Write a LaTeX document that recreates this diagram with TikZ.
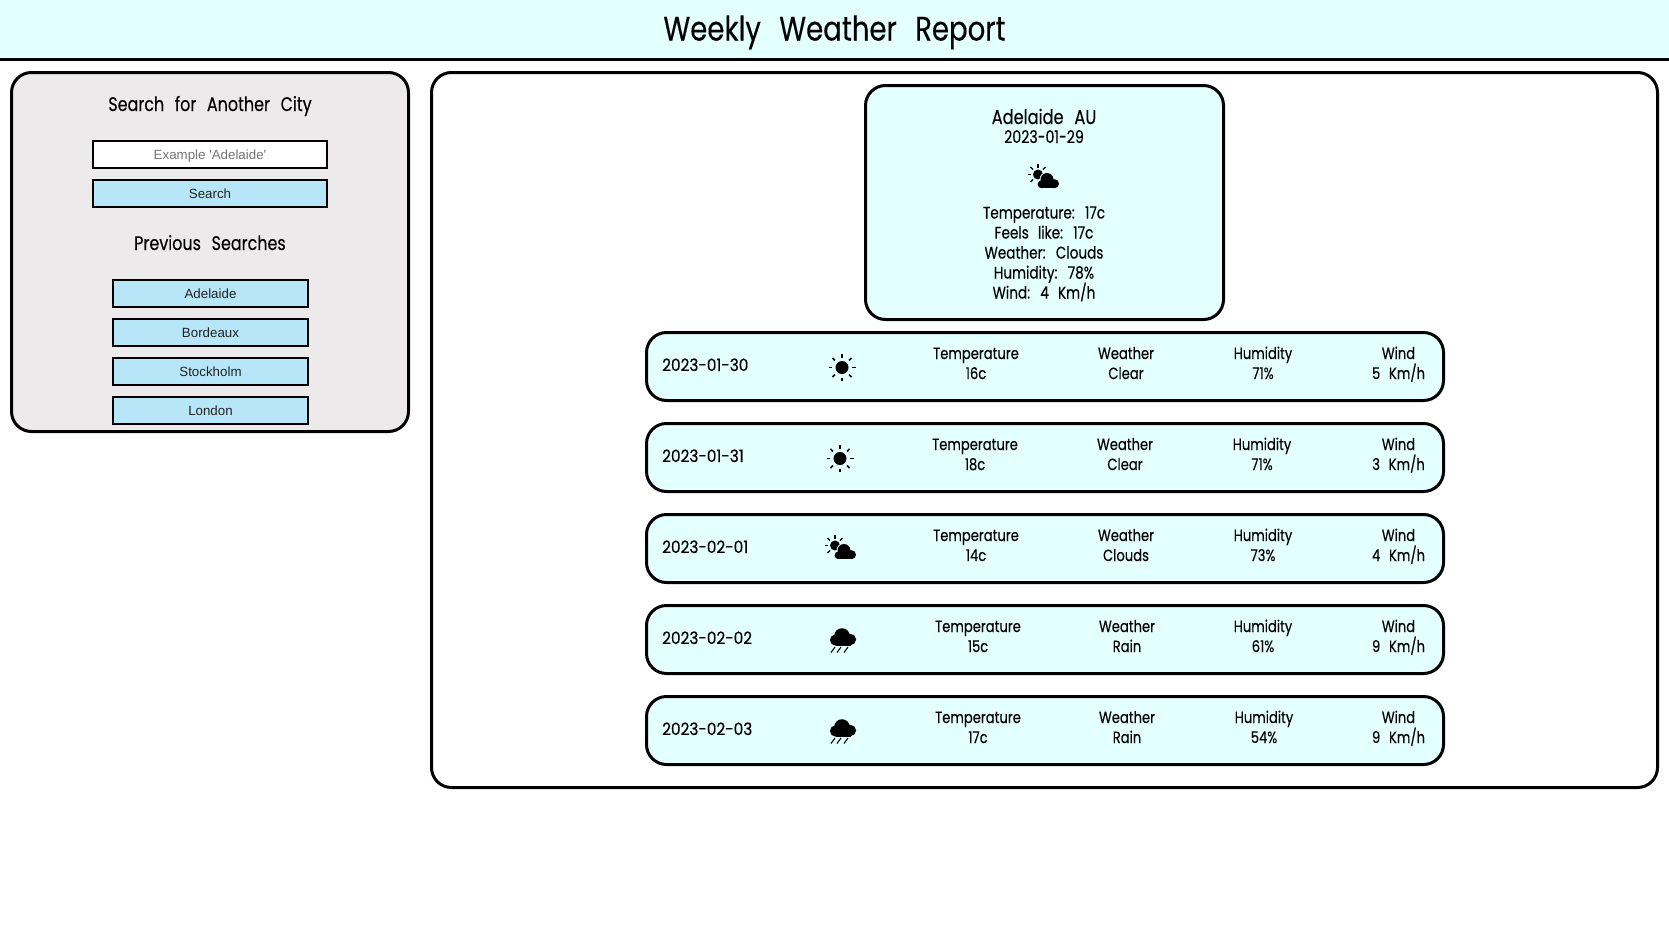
\documentclass[tikz,border=0pt]{standalone}
\usepackage{fontspec}
\setmainfont{Poppins}[FakeStretch=0.81,WordSpace=2.5,FakeBold=0.25]
\newfontfamily\datefont{Poppins}[FakeStretch=0.9,WordSpace=1.7,FakeBold=0.4]
\newfontfamily\uifont{Liberation Sans}
\definecolor{headbg}{HTML}{E4FFFF}
\definecolor{panelbg}{HTML}{ECEAEB}
\definecolor{btnbg}{HTML}{B6E6F7}
\definecolor{btntext}{HTML}{222222}
\definecolor{hint}{HTML}{757575}
\tikzset{
  x=1pt,y=-1pt,
  panel/.style={draw=black,line width=3pt,rounded corners=20pt,inner sep=0pt},
  btnbox/.style={draw=black,line width=2.2pt,fill=btnbg,inner sep=0pt,minimum height=26.5pt,text=btntext,font=\uifont\fontsize{13.33}{16}\selectfont,text height=12pt,text depth=3pt},
  lab/.style={inner sep=0pt,anchor=base,yshift=-5.5pt,font=\fontsize{16.2}{20}\selectfont},
  cardlab/.style={lab,font=\fontsize{16.8}{20}\selectfont},
  head/.style={lab,yshift=-1.5pt,font=\fontsize{19.7}{24}\selectfont},
  pics/sunic/.style={code={
    \fill[black] (0,0) circle (6.5);
    \foreach \a in {0,45,...,315} \draw[line width=1.6pt] (\a:10) -- (\a:13.5);
  }},
  pics/cloudsun/.style={code={
    \fill[black] (-10,-5) circle (5);
    \foreach \a in {135,180,225,270,315} \draw[line width=1.1pt] ([shift={(-10,-5)}]\a:7) -- ([shift={(-10,-5)}]\a:10.5);
    \fill[headbg] (-1,0) circle (7.5) (6.5,4.2) circle (5.5) (-6.5,4.8) circle (4.9);
    \fill[black] (-1,0) circle (6.5) (6.5,4.2) circle (4.5) (-6.5,4.8) circle (3.9);
    \fill[black] (-6.5,3) rectangle (6.5,8.7);
  }},
  pics/raincloud/.style={code={
    \fill[black] (-1,-4.5) circle (7.8) (7.5,-1) circle (5.6) (-7.5,-.5) circle (5.6);
    \fill[black] (-7.5,-1) rectangle (7.5,5);
    \foreach \d in {-10,-4,3} \draw[line width=1.1pt] (\d+2,6.5) -- (\d-2,12);
  }}
}
\begin{document}
\begin{tikzpicture}
\useasboundingbox (0,0) rectangle (1669,937);
% header
\fill[headbg] (0,0) rectangle (1669,58);
\draw[line width=3pt] (0,59.5) -- (1669,59.5);
\node[lab,yshift=-6pt,font=\fontsize{34}{40}\selectfont] (title) at (834.5,29) {Weekly Weather Report};
% left panel
\node[panel,fill=panelbg,minimum width=397pt,minimum height=359pt] (side) at (210,252) {};
\node[head] (h1) at (210,104) {Search for Another City};
\node[btnbox,fill=white,text=hint,minimum width=233.5pt] (inp) at (210,154.5) {Example 'Adelaide'};
\node[btnbox,minimum width=233.5pt] (go) at (210,193.5) {Search};
\node[head] (h2) at (210,243) {Previous Searches};
\node[btnbox,minimum width=194.5pt] (c1) at (210.5,293.5) {Adelaide};
\node[btnbox,minimum width=194.5pt] (c2) at (210.5,332.5) {Bordeaux};
\node[btnbox,minimum width=194.5pt] (c3) at (210.5,371.5) {Stockholm};
\node[btnbox,minimum width=194.5pt] (c4) at (210.5,410.5) {London};
% main panel
\node[panel,fill=white,minimum width=1226pt,minimum height=715pt] (main) at (1044.5,430) {};
% today card
\node[panel,fill=headbg,minimum width=358pt,minimum height=234pt] (card) at (1044.5,202.5) {};
\node[head,font=\fontsize{20}{24}\selectfont] (city) at (1044,117) {Adelaide AU};
\node[cardlab,font=\fontsize{17.5}{20}\selectfont] (today) at (1044,137.5) {2023-01-29};
\pic at (1048,179.5) {cloudsun};
\node[cardlab] (t1) at (1044,213) {Temperature: 17c};
\node[cardlab] (t2) at (1044,233) {Feels like: 17c};
\node[cardlab] (t3) at (1044,253) {Weather: Clouds};
\node[cardlab] (t4) at (1044,273) {Humidity: 78\%};
\node[cardlab] (t5) at (1044,293) {Wind: 4 Km/h};
% forecast rows
\foreach \n/\rdate/\ricon/\rix/\riy/\rtx/\rtv/\rwx/\rwv/\rhx/\rhv/\rwind in {
  0/2023-01-30/sunic/842/1/976/16c/1126/Clear/1263/71\%/5 Km\slash h,
  1/2023-01-31/sunic/840/1/975/18c/1125/Clear/1262/71\%/3 Km\slash h,
  2/2023-02-01/cloudsun/845/2/976/14c/1126/Clouds/1263/73\%/4 Km\slash h,
  3/2023-02-02/raincloud/843/1/978/15c/1127/Rain/1263/61\%/9 Km\slash h,
  4/2023-02-03/raincloud/843/1/978/17c/1127/Rain/1264/54\%/9 Km\slash h}{
  \pgfmathsetmacro\cy{366.5+91*\n}
  \node[panel,fill=headbg,minimum width=797pt,minimum height=68pt] (row\n) at (1045,\cy) {};
  \node[lab,anchor=base west,font=\datefont\fontsize{17}{20}\selectfont] (date\n) at (662,\cy-1) {\rdate};
  \pic at (\rix,\cy+\riy) {\ricon};
  \node[lab] (tt\n) at (\rtx,\cy-13) {Temperature};
  \node[lab] (tv\n) at (\rtx,\cy+7) {\rtv};
  \node[lab] (wt\n) at (\rwx,\cy-13) {Weather};
  \node[lab] (wv\n) at (\rwx,\cy+7) {\rwv};
  \node[lab] (ht\n) at (\rhx,\cy-13) {Humidity};
  \node[lab] (hv\n) at (\rhx,\cy+7) {\rhv};
  \node[lab] (dt\n) at (1398.5,\cy-13) {Wind};
  \node[lab] (dv\n) at (1398.5,\cy+7) {\rwind};
}
\end{tikzpicture}
\end{document}
